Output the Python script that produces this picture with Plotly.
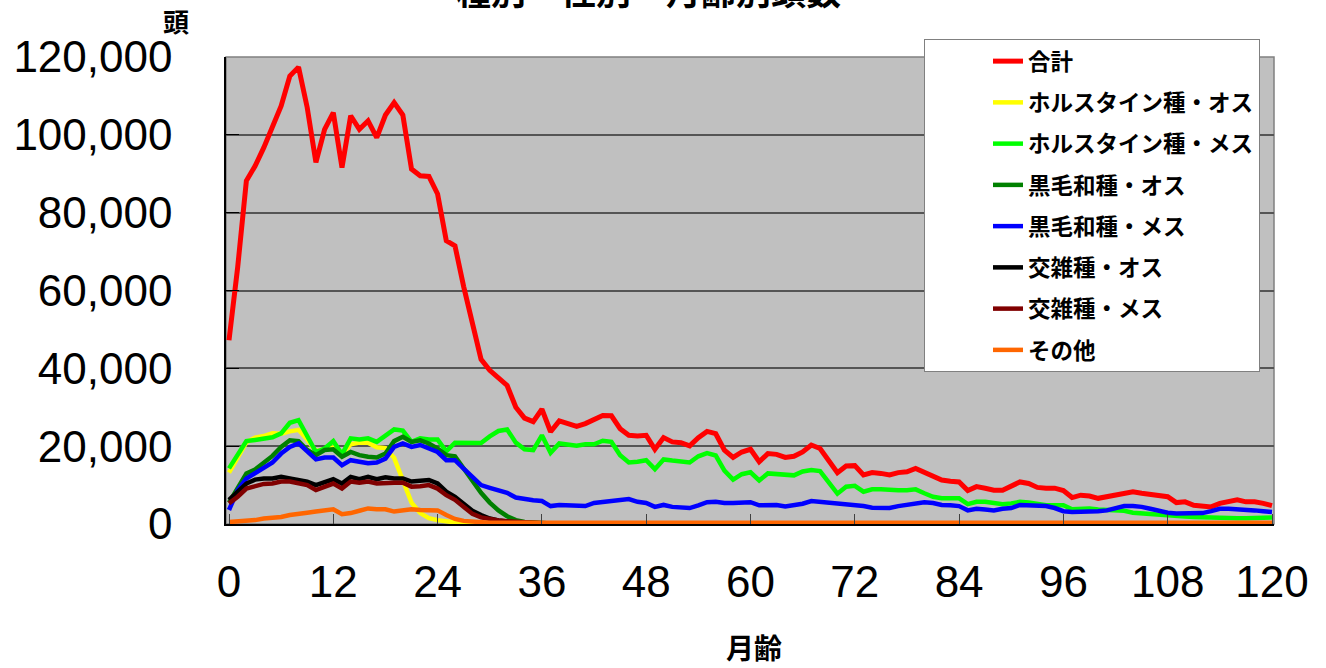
import plotly.graph_objects as go

months = list(range(0, 121))
x_tick_vals = [0, 12, 24, 36, 48, 60, 72, 84, 96, 108, 120]
y_tick_vals = [0, 20000, 40000, 60000, 80000, 100000, 120000]
y_tick_text = ["0", "20,000", "40,000", "60,000", "80,000", "100,000", "120,000"]

series_names = ["合計", "ホルスタイン種・オス", "ホルスタイン種・メス", "黒毛和種・オス",
                "黒毛和種・メス", "交雑種・オス", "交雑種・メス", "その他"]
series_colors = ["#FF0000", "#FFFF00", "#00FF00", "#008000", "#0000FF", "#000000", "#800000", "#FF6600"]

total = [47200, 66000, 88200, 92000, 96700, 101900, 107400, 115100, 117400, 107000,
         92900, 101400, 105700, 91600, 104900, 101400, 103600, 99300, 105100, 108300,
         105100, 91200, 89500, 89300, 84800, 72800, 71500, 61000, 51000, 42300,
         39500, 37700, 35600, 30000, 27200, 26300, 29500, 23700, 26500, 25800,
         25100, 25800, 26700, 27900, 27800, 24500, 22800, 22600, 22800, 19200,
         22200, 21100, 20900, 20100, 22200, 23800, 23200, 19000, 17100, 18500,
         19200, 16000, 18100, 17900, 17100, 17400, 18500, 20300, 19400, 16200,
         13200, 14900, 15000, 12600, 13200, 13000, 12600, 13200, 13400, 14300,
         13200, 12100, 11300, 11000, 10800, 8600, 9600, 9200, 8700, 8700,
         9600, 10800, 10400, 9400, 9200, 9200, 8600, 6800, 7400, 7200,
         6600, 7000, 7400, 7900, 8300, 7900, 7600, 7200, 7000, 5500,
         5700, 4800, 4600, 4400, 5300, 5700, 6200, 5700, 5700, 5300,
         4700]

holstein_m = [13200, 17400, 21000, 22200, 22600, 23300, 23200, 23800, 24200, 21700,
              18700, 19200, 19700, 17900, 20500, 20900, 20900, 19700, 19500, 17000,
              11000, 5500, 2800, 1500, 1000, 600, 400, 250, 150, 100,
              100, 100, 100, 100, 100, 100, 100, 100, 100, 100,
              50, 50, 50, 50, 50, 50, 50, 50, 50, 50,
              50, 50, 50, 50, 50, 50, 50, 50, 50, 50,
              50, 50, 50, 50, 50, 50, 50, 50, 50, 50,
              50, 50, 50, 50, 50, 50, 50, 50, 50, 50,
              50, 50, 50, 50, 50, 50, 50, 50, 50, 50,
              50, 50, 50, 50, 50, 50, 50, 50, 50, 50,
              50, 50, 50, 50, 50, 50, 50, 50, 50, 50,
              50, 50, 50, 50, 50, 50, 50, 50, 50, 50,
              50]

holstein_f = [14300, 17700, 21300, 21600, 22000, 22300, 23300, 26000, 26700, 22800,
              18500, 19400, 21300, 17900, 22000, 21700, 22000, 21100, 22800, 24300,
              24000, 21100, 22000, 21700, 21700, 18700, 20900, 20900, 20900, 20800,
              22500, 23900, 24300, 20900, 19200, 19000, 22800, 18300, 20700, 20400,
              20100, 20500, 20500, 21400, 21100, 17700, 15800, 16000, 16400, 14100,
              16600, 16300, 16100, 15800, 17400, 18200, 17600, 13700, 11400, 12800,
              13300, 11200, 13000, 12800, 12600, 12500, 13500, 13900, 13600, 10600,
              7800, 9600, 9800, 8300, 8900, 8900, 8700, 8700, 8700, 8900,
              7900, 7000, 6600, 6600, 6600, 5100, 5700, 5700, 5300, 5100,
              5300, 5700, 5500, 5100, 4800, 4800, 4800, 3800, 4000, 4000,
              3700, 3600, 3400, 3400, 2900, 2700, 2700, 2300, 2100, 2000,
              1900, 1800, 1700, 1600, 1600, 1500, 1500, 1500, 1500, 1600,
              1700]

wagyu_m = [5500, 9000, 13000, 14000, 15700, 17500, 19800, 21500, 21300, 19000,
           17700, 19000, 19200, 17300, 18500, 17700, 17300, 17100, 18100, 21300,
           22400, 21100, 21500, 20700, 19400, 17700, 17400, 14200, 10800, 8000,
           5500, 3500, 2000, 1000, 500, 300, 200, 100, 100, 100,
           100, 100, 100, 100, 100, 100, 100, 100, 100, 100,
           100, 100, 100, 100, 100, 100, 100, 100, 100, 100,
           100, 100, 100, 100, 100, 100, 100, 100, 100, 100,
           100, 100, 100, 100, 100, 100, 100, 100, 100, 100,
           100, 100, 100, 100, 100, 100, 100, 100, 100, 100,
           100, 100, 100, 100, 100, 100, 100, 100, 100, 100,
           100, 100, 100, 100, 100, 100, 100, 100, 100, 100,
           100, 100, 100, 100, 100, 100, 100, 100, 100, 100,
           100]

wagyu_f = [3600, 8700, 11700, 13000, 14300, 15800, 18100, 19800, 20700, 18500,
           16600, 17100, 17100, 15100, 16400, 16000, 15600, 15800, 16800, 19800,
           20700, 19800, 20300, 19400, 18500, 16400, 16400, 14200, 12000, 10000,
           9300, 8700, 8000, 6800, 6400, 6100, 5900, 4600, 4900, 4800,
           4600, 4600, 5400, 5700, 5900, 6200, 6400, 5700, 5400, 4400,
           4900, 4400, 4200, 4100, 4800, 5600, 5700, 5400, 5400, 5600,
           5600, 4800, 4900, 4900, 4500, 4800, 5200, 5900, 5700, 5600,
           5300, 5200, 5000, 4600, 4200, 4100, 4100, 4600, 4900, 5400,
           5600, 5400, 4900, 4800, 4600, 3500, 3900, 3700, 3500, 3900,
           4100, 4900, 4800, 4800, 4600, 4100, 3300, 3100, 3100, 3100,
           3300, 3500, 4100, 4600, 4600, 4400, 3900, 3300, 2900, 2700,
           2700, 2700, 2800, 3300, 3900, 3900, 3800, 3800, 3500, 3300,
           3100]

cross_m = [6200, 8300, 10400, 11400, 11700, 11700, 12100, 11700, 11300, 10900,
           10000, 10900, 11500, 10400, 12100, 11500, 12100, 11500, 12000, 11700,
           11700, 10900, 11200, 11300, 10400, 8300, 7000, 5200, 3400, 2300,
           1400, 900, 600, 400, 300, 200, 100, 100, 100, 100,
           100, 100, 100, 100, 100, 100, 100, 100, 100, 100,
           100, 100, 100, 100, 100, 100, 100, 100, 100, 100,
           100, 100, 100, 100, 100, 100, 100, 100, 100, 100,
           100, 100, 100, 100, 100, 100, 100, 100, 100, 100,
           100, 100, 100, 100, 100, 100, 100, 100, 100, 100,
           100, 100, 100, 100, 100, 100, 100, 100, 100, 100,
           100, 100, 100, 100, 100, 100, 100, 100, 100, 100,
           100, 100, 100, 100, 100, 100, 100, 100, 100, 100,
           100]

cross_f = [5300, 7000, 9100, 9600, 10300, 10400, 10900, 10900, 10400, 10000,
           8700, 9700, 10400, 9100, 10900, 10600, 10900, 10400, 10600, 10600,
           10600, 9600, 9700, 10000, 9100, 7400, 6200, 4300, 2600, 1700,
           1200, 900, 700, 500, 400, 300, 200, 200, 200, 200,
           200, 200, 200, 200, 200, 200, 200, 200, 200, 200,
           200, 200, 200, 200, 200, 200, 200, 200, 200, 200,
           200, 200, 200, 200, 200, 200, 200, 200, 200, 200,
           200, 200, 200, 200, 200, 200, 200, 200, 200, 200,
           200, 200, 200, 200, 200, 200, 200, 200, 200, 200,
           200, 200, 200, 200, 200, 200, 200, 200, 200, 200,
           200, 200, 200, 200, 200, 200, 200, 200, 200, 200,
           200, 200, 200, 200, 200, 200, 200, 200, 200, 200,
           200]

other = [500, 600, 800, 1000, 1400, 1600, 1800, 2300, 2700, 2900,
         3200, 3500, 3800, 2500, 2800, 3400, 4000, 3800, 3800, 3200,
         3400, 3800, 3600, 3600, 3500, 2300, 1300, 800, 600, 400,
         300, 300, 300, 300, 300, 300, 300, 300, 300, 300,
         300, 300, 300, 300, 300, 300, 300, 300, 300, 300,
         300, 300, 300, 300, 300, 300, 300, 300, 300, 300,
         300, 300, 300, 300, 300, 300, 300, 300, 300, 300,
         300, 300, 300, 300, 300, 300, 300, 300, 300, 300,
         300, 300, 300, 300, 300, 300, 300, 300, 300, 300,
         300, 300, 300, 300, 300, 300, 300, 300, 300, 300,
         300, 300, 300, 300, 300, 300, 300, 300, 300, 300,
         300, 300, 300, 300, 300, 300, 300, 300, 300, 300,
         300]

all_series = [total, holstein_m, holstein_f, wagyu_m, wagyu_f, cross_m, cross_f, other]
line_widths = [5, 4.5, 4.5, 4.5, 4.5, 4.5, 4.5, 4.5]

CJK = "Noto Sans CJK JP"
NUM = "Liberation Sans, Arial, sans-serif"

fig = go.Figure()
for i, (name, col, vals) in enumerate(zip(series_names, series_colors, all_series)):
    fig.add_trace(go.Scatter(
        x=months, y=vals, mode="lines", name=name, legendgroup=f"g{i}",
        line=dict(color=col, width=line_widths[i]),
    ))

fig.update_layout(
    width=1326, height=668,
    margin=dict(l=226, r=52, t=57, b=144, autoexpand=False),
    paper_bgcolor="white",
    plot_bgcolor="#C0C0C0",
    showlegend=True,
    legend=dict(
        xref="container", yref="container",
        x=924 / 1326, y=1 - 39 / 668, xanchor="left", yanchor="top",
        bgcolor="white", bordercolor="#808080", borderwidth=1,
        font=dict(family=CJK, size=22.5, color="black", weight="bold"),
        tracegroupgap=9, traceorder="grouped", indentation=63,
    ),
    xaxis=dict(
        range=[-0.345, 120.23], tickvals=x_tick_vals, ticktext=[str(v) for v in x_tick_vals],
        showgrid=False, zeroline=False, showline=True, linecolor="black", linewidth=1.5,
        ticks="inside", ticklen=10, tickcolor="#404040", tickwidth=1, automargin=False,
        tickfont=dict(family=NUM, size=44, color="black"), ticklabelstandoff=18,
    ),
    yaxis=dict(
        range=[0, 120000], tickvals=y_tick_vals, ticktext=y_tick_text,
        showgrid=True, gridcolor="#555555", gridwidth=1.5, zeroline=False,
        showline=True, linecolor="black", linewidth=1.5, automargin=False,
        ticks="inside", ticklen=13, tickcolor="black", tickwidth=1,
        tickfont=dict(family=NUM, size=44, color="black"), ticklabelstandoff=43,
    ),
    shapes=[dict(type="rect", xref="paper", yref="paper", x0=0, x1=1, y0=0, y1=1,
                 line=dict(color="#808080", width=1.5), layer="below")],
    annotations=[
        dict(text="種別・性別・月齢別頭数", xref="paper", yref="paper",
             x=(648 - 226) / 1048, y=(524 + 11) / 467, xanchor="center", yanchor="middle",
             showarrow=False, font=dict(family=CJK, size=35, color="black", weight="bold")),
        dict(text="頭", xref="paper", yref="paper",
             x=(176 - 226) / 1048, y=(524 - 20) / 467, xanchor="center", yanchor="middle",
             showarrow=False, font=dict(family=CJK, size=26, color="black", weight="bold")),
        dict(text="月齢", xref="paper", yref="paper",
             x=(754 - 226) / 1048, y=(524 - 647) / 467, xanchor="center", yanchor="middle",
             showarrow=False, font=dict(family=CJK, size=28, color="black", weight="bold")),
    ],
)

fig.write_html("out.html", config={"displayModeBar": False},
               post_script="document.body.style.margin='0px';")
